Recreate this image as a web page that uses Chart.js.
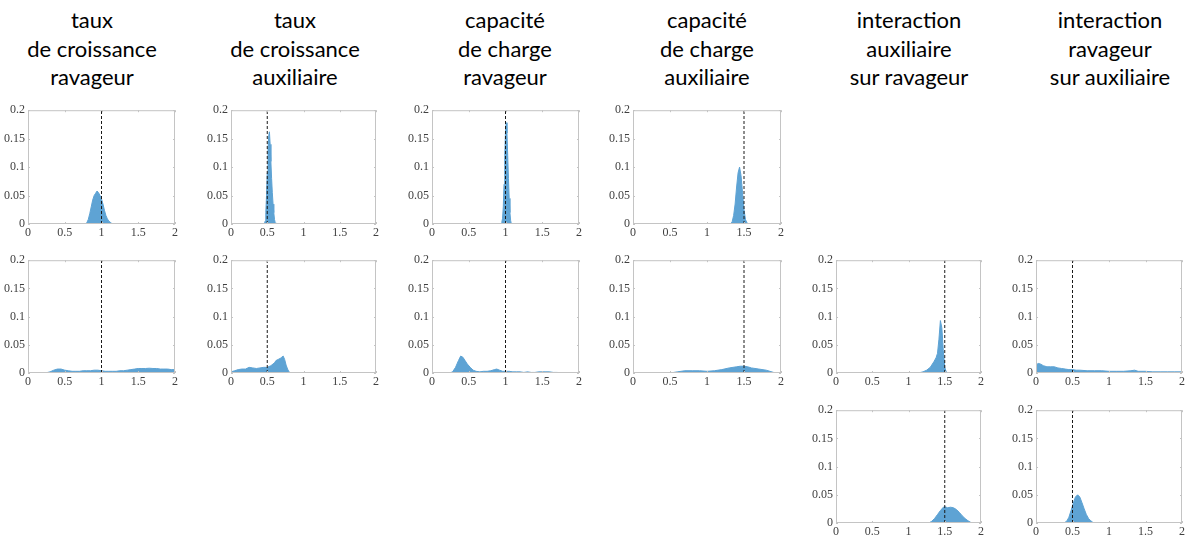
<!DOCTYPE html>
<html>
<head>
<meta charset="utf-8">
<script src="https://cdn.jsdelivr.net/npm/chart.js@4"></script>
<style>
    body { margin: 0; background: #fff; width: 1187px; height: 540px; position: relative; overflow: hidden; }
    .title { position: absolute; top: 6px; width: 220px; text-align: center; font-family: Lato, sans-serif;
             font-size: 22px; line-height: 28.5px; color: #000; }
    canvas { position: absolute; }
</style>
</head>
<body>
<script>
(function () {
    'use strict';

    // column headings and the true parameter value (dashed line) of each column
    var titles = [
        ['taux', 'de croissance', 'ravageur'],
        ['taux', 'de croissance', 'auxiliaire'],
        ['capacité', 'de charge', 'ravageur'],
        ['capacité', 'de charge', 'auxiliaire'],
        ['interaction', 'auxiliaire', 'sur ravageur'],
        ['interaction', 'ravageur', 'sur auxiliaire']
    ];
    var trueValues = [1, 0.5, 1, 1.5, 1.5, 0.5];
    var xTicks = [0, 0.5, 1, 1.5, 2];
    var yTicks = [0, 0.05, 0.1, 0.15, 0.2];

    // density estimates, [value, frequency]
    var growthPestA = [[0.78, 0], [0.80, 0.002], [0.82, 0.008], [0.84, 0.018], [0.86, 0.03], [0.88, 0.042], [0.90, 0.05],
        [0.92, 0.054], [0.94, 0.058], [0.96, 0.055], [0.98, 0.05], [1.00, 0.044], [1.02, 0.035], [1.04, 0.024],
        [1.06, 0.015], [1.08, 0.009], [1.10, 0.005], [1.12, 0.003], [1.14, 0.001], [1.16, 0]];
    var growthPestB = [[0.20, 0], [0.25, 0.0005], [0.30, 0.002], [0.35, 0.005], [0.40, 0.007], [0.45, 0.007], [0.50, 0.005],
        [0.55, 0.004], [0.60, 0.003], [0.65, 0.003], [0.70, 0.003], [0.75, 0.004], [0.80, 0.004], [0.85, 0.004],
        [0.90, 0.005], [0.95, 0.005], [1.00, 0.004], [1.05, 0.003], [1.10, 0.003], [1.15, 0.003], [1.20, 0.003],
        [1.25, 0.004], [1.30, 0.004], [1.35, 0.005], [1.40, 0.006], [1.45, 0.007], [1.50, 0.008], [1.55, 0.008],
        [1.60, 0.008], [1.65, 0.0085], [1.70, 0.008], [1.75, 0.008], [1.80, 0.007], [1.85, 0.007], [1.90, 0.007],
        [1.95, 0.006], [2.00, 0.006]];
    var growthAuxA = [[0.46, 0], [0.47, 0.005], [0.48, 0.02], [0.49, 0.05], [0.50, 0.09], [0.51, 0.13], [0.52, 0.155],
        [0.53, 0.162], [0.54, 0.14], [0.55, 0.11], [0.56, 0.08], [0.57, 0.055], [0.58, 0.035], [0.59, 0.02],
        [0.60, 0.008], [0.61, 0.002], [0.62, 0]];
    var growthAuxB = [[0, 0.002], [0.05, 0.004], [0.10, 0.006], [0.15, 0.007], [0.20, 0.007], [0.25, 0.010], [0.30, 0.009],
        [0.35, 0.008], [0.40, 0.009], [0.45, 0.010], [0.50, 0.010], [0.55, 0.013], [0.60, 0.018], [0.62, 0.022],
        [0.65, 0.024], [0.68, 0.026], [0.70, 0.028], [0.72, 0.030], [0.74, 0.024], [0.76, 0.014], [0.78, 0.007],
        [0.80, 0.002], [0.82, 0]];
    var capPestA = [[0.94, 0], [0.95, 0.003], [0.96, 0.01], [0.97, 0.03], [0.98, 0.07], [0.99, 0.12], [1.00, 0.165],
        [1.01, 0.178], [1.02, 0.16], [1.03, 0.12], [1.04, 0.08], [1.05, 0.045], [1.06, 0.02], [1.07, 0.006], [1.08, 0]];
    var capPestB = [[0.24, 0], [0.28, 0.002], [0.32, 0.01], [0.36, 0.022], [0.39, 0.03], [0.42, 0.028], [0.45, 0.022],
        [0.48, 0.016], [0.52, 0.01], [0.56, 0.005], [0.60, 0.003], [0.65, 0.002], [0.70, 0.003], [0.75, 0.003],
        [0.80, 0.004], [0.85, 0.006], [0.88, 0.007], [0.92, 0.005], [0.96, 0.003], [1.00, 0.003], [1.05, 0.003],
        [1.10, 0.002], [1.15, 0.002], [1.20, 0.002], [1.25, 0.001], [1.30, 0.002], [1.35, 0.001], [1.40, 0.001],
        [1.45, 0.002], [1.50, 0.002], [1.55, 0.002], [1.60, 0.002], [1.65, 0.001], [1.70, 0.001], [1.75, 0.0005],
        [1.80, 0.0003], [1.85, 0]];
    var capAuxA = [[1.32, 0], [1.34, 0.004], [1.36, 0.015], [1.38, 0.035], [1.40, 0.065], [1.42, 0.09], [1.44, 0.1],
        [1.46, 0.085], [1.48, 0.055], [1.50, 0.025], [1.52, 0.008], [1.54, 0.002], [1.56, 0]];
    var capAuxB = [[0.50, 0], [0.55, 0.001], [0.60, 0.002], [0.70, 0.004], [0.80, 0.004], [0.90, 0.004], [1.00, 0.003],
        [1.10, 0.004], [1.20, 0.006], [1.30, 0.009], [1.40, 0.011], [1.45, 0.012], [1.50, 0.012], [1.55, 0.011],
        [1.60, 0.009], [1.70, 0.007], [1.80, 0.005], [1.85, 0.003], [1.90, 0.001], [1.95, 0]];
    var auxOnPestA = [[1.08, 0], [1.15, 0.0005], [1.20, 0.002], [1.25, 0.005], [1.30, 0.01], [1.35, 0.02], [1.38, 0.027],
        [1.40, 0.035], [1.42, 0.06], [1.44, 0.093], [1.46, 0.08], [1.48, 0.04], [1.50, 0.01], [1.52, 0.002], [1.54, 0]];
    var auxOnPestB = [[1.28, 0], [1.32, 0.003], [1.36, 0.008], [1.40, 0.015], [1.44, 0.022], [1.48, 0.028], [1.50, 0.029],
        [1.54, 0.027], [1.58, 0.028], [1.62, 0.027], [1.66, 0.024], [1.70, 0.019], [1.74, 0.013], [1.78, 0.008],
        [1.82, 0.004], [1.86, 0.001], [1.90, 0]];
    var pestOnAuxA = [[0, 0.014], [0.03, 0.017], [0.06, 0.016], [0.10, 0.013], [0.15, 0.011], [0.20, 0.011], [0.25, 0.011],
        [0.30, 0.009], [0.35, 0.008], [0.40, 0.007], [0.45, 0.006], [0.50, 0.006], [0.55, 0.005], [0.60, 0.005],
        [0.70, 0.004], [0.80, 0.004], [0.90, 0.004], [1.00, 0.003], [1.10, 0.003], [1.20, 0.003], [1.30, 0.004],
        [1.35, 0.005], [1.40, 0.003], [1.50, 0.003], [1.60, 0.002], [1.70, 0.002], [1.80, 0.002], [1.90, 0.002],
        [2.00, 0.002]];
    var pestOnAuxB = [[0.38, 0], [0.42, 0.003], [0.45, 0.01], [0.48, 0.022], [0.51, 0.035], [0.54, 0.046], [0.57, 0.05],
        [0.60, 0.046], [0.63, 0.036], [0.66, 0.025], [0.69, 0.015], [0.72, 0.008], [0.75, 0.004], [0.78, 0.001], [0.80, 0]];

    var panels = [
        { col: 0, row: 0, data: growthPestA }, { col: 0, row: 1, data: growthPestB },
        { col: 1, row: 0, data: growthAuxA }, { col: 1, row: 1, data: growthAuxB },
        { col: 2, row: 0, data: capPestA }, { col: 2, row: 1, data: capPestB },
        { col: 3, row: 0, data: capAuxA }, { col: 3, row: 1, data: capAuxB },
        { col: 4, row: 1, data: auxOnPestA }, { col: 4, row: 2, data: auxOnPestB },
        { col: 5, row: 1, data: pestOnAuxA }, { col: 5, row: 2, data: pestOnAuxB }
    ];

    // plot-area boxes in page pixels
    var colX = [[28, 176], [231, 377], [432, 580], [633, 782], [836, 982], [1036, 1183]];
    var rowY = [[108, 224], [258, 373], [408, 523]];
    var titleCenters = [92, 295, 505, 707, 909, 1110];
    var yAxisW = 28, xAxisH = 17, padTop = 8, padRight = 4;

    titles.forEach(function (lines, i) {
        var div = document.createElement('div');
        div.className = 'title';
        div.style.left = (titleCenters[i] - 110) + 'px';
        div.innerHTML = lines.join('<br>');
        document.body.appendChild(div);
    });

    // MATLAB-style light box with inward tick marks
    var boxPlugin = {
        id: 'box',
        afterDatasetsDraw: function (chart) {
            var a = chart.chartArea, ctx = chart.ctx, xs = chart.scales.x, ys = chart.scales.y;
            ctx.save();
            ctx.strokeStyle = '#c4c4c4';
            ctx.lineWidth = 1;
            ctx.strokeRect(a.left + 0.5, a.top + 0.5, a.right - a.left - 1, a.bottom - a.top - 1);
            ctx.beginPath();
            xTicks.forEach(function (t) {
                var px = Math.round(xs.getPixelForValue(t)) + 0.5;
                ctx.moveTo(px, a.bottom); ctx.lineTo(px, a.bottom - 2);
                ctx.moveTo(px, a.top); ctx.lineTo(px, a.top + 2);
            });
            yTicks.forEach(function (t) {
                var py = Math.round(ys.getPixelForValue(t)) + 0.5;
                ctx.moveTo(a.left, py); ctx.lineTo(a.left + 2, py);
                ctx.moveTo(a.right, py); ctx.lineTo(a.right - 2, py);
            });
            ctx.stroke();
            ctx.restore();
        }
    };

    function fmt(v) { return String(+v.toFixed(2)); }

    panels.forEach(function (p) {
        var x0 = colX[p.col][0], x1 = colX[p.col][1];
        var y0 = rowY[p.row][0], y1 = rowY[p.row][1];
        var canvas = document.createElement('canvas');
        canvas.width = (x1 - x0) + yAxisW + padRight;
        canvas.height = (y1 - y0) + padTop + xAxisH;
        canvas.style.left = (x0 - yAxisW) + 'px';
        canvas.style.top = (y0 - padTop) + 'px';
        document.body.appendChild(canvas);

        var truth = trueValues[p.col];
        new Chart(canvas.getContext('2d'), {
            type: 'line',
            data: {
                datasets: [{
                    data: [{ x: truth, y: 0 }, { x: truth, y: 0.2 }],
                    borderColor: '#1a1a1a',
                    borderWidth: 1,
                    borderDash: [3, 2],
                    pointRadius: 0,
                    fill: false,
                    order: 0
                }, {
                    data: p.data.map(function (d) { return { x: d[0], y: d[1] }; }),
                    borderColor: 'rgb(94, 163, 212)',
                    backgroundColor: 'rgb(94, 163, 212)',
                    borderWidth: 1,
                    pointRadius: 0,
                    tension: 0,
                    fill: 'origin',
                    order: 1
                }]
            },
            options: {
                responsive: false,
                animation: false,
                layout: { padding: { top: padTop, right: padRight, left: 0, bottom: 0 } },
                plugins: { legend: { display: false }, tooltip: { enabled: false } },
                scales: {
                    x: {
                        type: 'linear', min: 0, max: 2,
                        afterBuildTicks: function (s) { s.ticks = xTicks.map(function (v) { return { value: v }; }); },
                        afterFit: function (s) { s.height = xAxisH; },
                        grid: { display: false, drawTicks: false },
                        border: { display: false },
                        ticks: {
                            padding: 2, maxRotation: 0, color: '#404040',
                            font: { family: '"Liberation Serif", serif', size: 12 },
                            callback: fmt
                        }
                    },
                    y: {
                        type: 'linear', min: 0, max: 0.2,
                        afterBuildTicks: function (s) { s.ticks = yTicks.map(function (v) { return { value: v }; }); },
                        afterFit: function (s) { s.width = yAxisW; },
                        grid: { display: false, drawTicks: false },
                        border: { display: false },
                        ticks: {
                            padding: 3, color: '#404040',
                            font: { family: '"Liberation Serif", serif', size: 12 },
                            callback: fmt
                        }
                    }
                }
            },
            plugins: [boxPlugin]
        });
    });
})();
</script>
</body>
</html>
